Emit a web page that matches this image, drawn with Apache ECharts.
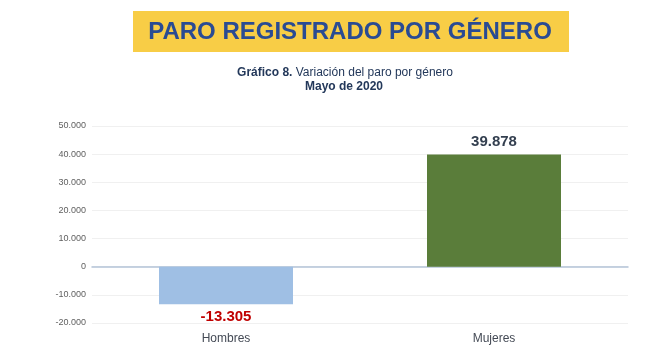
<!DOCTYPE html>
<html><head><meta charset="utf-8">
<script src="https://cdn.jsdelivr.net/npm/echarts@6/dist/echarts.min.js"></script>
<style>html,body{margin:0;padding:0;background:#fff}#c{width:650px;height:362px}</style>
</head><body><div id="c"></div>
<script>
const categories = ['Hombres', 'Mujeres'];
const values = [-13305, 39878];
const barColors = ['#9fbfe4', '#5a7d3a'];
const labelColors = ['#c00000', '#333f4f'];
const yTicks = { min: -20000, max: 50000, interval: 10000 };

function fmt(v) {
  const s = Math.abs(v).toString().replace(/\B(?=(\d{3})+(?!\d))/g, '.');
  return (v < 0 ? '-' : '') + s;
}

const chart = echarts.init(document.getElementById('c'));
chart.setOption({
  animation: false,
  backgroundColor: '#ffffff',
  graphic: [
    { type: 'rect', shape: { x: 133, y: 11, width: 436, height: 41 }, style: { fill: '#f8cd46' } },
    { type: 'text', x: 350, y: 32, style: { text: 'PARO REGISTRADO POR GÉNERO', fill: '#2a4b93', font: 'bold 24px "Liberation Sans", Arial, sans-serif', align: 'center', verticalAlign: 'middle' } },
    { type: 'text', x: 345, y: 73, style: { text: '{b|Gráfico 8.} {r|Variación del paro por género}', align: 'center', verticalAlign: 'middle',
      rich: { b: { font: 'bold 12px "Liberation Sans", Arial, sans-serif', fill: '#23385a' }, r: { font: '12px "Liberation Sans", Arial, sans-serif', fill: '#23385a' } } } },
    { type: 'text', x: 344, y: 87, style: { text: 'Mayo de 2020', fill: '#23385a', font: 'bold 12px "Liberation Sans", Arial, sans-serif', align: 'center', verticalAlign: 'middle' } }
  ],
  grid: { left: 92, right: 22, top: 126, bottom: 39, containLabel: false },
  xAxis: [
    { type: 'category', data: categories, position: 'bottom',
      axisLine: { show: false, onZero: false }, axisTick: { show: false },
      axisLabel: { color: '#444a55', fontSize: 12, margin: 10, fontFamily: 'Liberation Sans, Arial, sans-serif' } },
    { type: 'category', data: categories, position: 'bottom',
      axisLine: { show: true, onZero: true, lineStyle: { color: '#b4c3d8', width: 1.5 } },
      axisTick: { show: false }, axisLabel: { show: false } }
  ],
  yAxis: {
    type: 'value', min: yTicks.min, max: yTicks.max, interval: yTicks.interval,
    axisLine: { show: false }, axisTick: { show: false },
    axisLabel: { color: '#5f5f5f', fontSize: 9, margin: 6, formatter: fmt, fontFamily: 'Liberation Sans, Arial, sans-serif' },
    splitLine: { lineStyle: { color: '#f0f0f0', width: 1 } }
  },
  series: [{
    type: 'bar', xAxisIndex: 0, barWidth: '50%',
    data: values.map((v, i) => ({
      value: v,
      itemStyle: { color: barColors[i] },
      label: { show: true, position: v < 0 ? 'bottom' : 'top', distance: 5, color: labelColors[i],
        fontSize: 15, fontWeight: 'bold', fontFamily: 'Liberation Sans, Arial, sans-serif', formatter: p => fmt(p.value) }
    }))
  }]
});
</script></body></html>
